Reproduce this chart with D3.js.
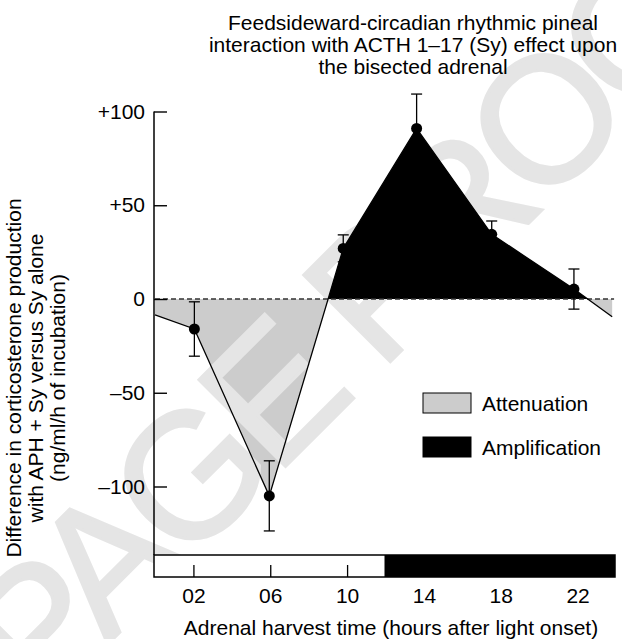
<!DOCTYPE html>
<html>
<head>
<meta charset="utf-8">
<script src="https://cdn.jsdelivr.net/npm/d3@7"></script>
<style>
  body { margin: 0; background: #fff; }
  text { font-family: "Liberation Sans", Arial, Helvetica, sans-serif; }
</style>
</head>
<body>
<script>
// values (hours after light onset, ng/ml/h of incubation)
const harvestHours = [2.05, 5.95, 9.8, 13.62, 17.53, 21.81];
const meanDiff = [-16, -105, 27, 91, 34.5, 5.3];
const semDiff = [14.5, 18.7, 7.2, 18.3, 7.1, 10.7];
// the curve is carried on to both edges of the day
const edgeHours = [0, 23.8];
const edgeDiff = [-8.5, -9.5];

const yTicks = [100, 50, 0, -50, -100];
const xTicks = [2, 6, 10, 14, 18, 22];
const lightPhases = [{from: 0, to: 12, fill: '#fff'}, {from: 12, to: 24, fill: '#000'}];

const titleLines = ['Feedsideward-circadian rhythmic pineal',
  'interaction with ACTH 1\u201317 (Sy) effect upon', 'the bisected adrenal'];
const yLabelLines = ['Difference in corticosterone production',
  'with APH + Sy versus Sy alone', '(ng/ml/h of incubation)'];
const xLabel = 'Adrenal harvest time (hours after light onset)';
const legendItems = [{label: 'Attenuation', fill: '#cccccc'}, {label: 'Amplification', fill: '#000'}];

const W = 622, H = 639;
const fontSize = 21;
const barTop = 555, barBottom = 577;

const svg = d3.select('body').append('svg')
  .attr('width', W).attr('height', H);

const x = d3.scaleLinear().domain([0, 24]).range([155, 616]);
const y = d3.scaleLinear().domain([-100, 100]).range([486.5, 111.5]);

const pts = [{h: edgeHours[0], v: edgeDiff[0]}]
  .concat(harvestHours.map((h, i) => ({h: h, v: meanDiff[i], s: semDiff[i]})))
  .concat([{h: edgeHours[1], v: edgeDiff[1]}]);

// clip areas above / below zero
const defs = svg.append('defs');
defs.append('clipPath').attr('id', 'above')
  .append('rect').attr('x', 0).attr('y', 0).attr('width', W).attr('height', y(0));
defs.append('clipPath').attr('id', 'below')
  .append('rect').attr('x', 0).attr('y', y(0)).attr('width', W).attr('height', barTop - y(0));

const area = d3.area()
  .x((d) => x(d.h))
  .y0(y(0))
  .y1((d) => y(d.v));

svg.append('path').datum(pts)
  .attr('d', area).attr('fill', legendItems[0].fill)
  .attr('clip-path', 'url(#below)');

// watermark (sits over the grey fill, under the black one)
svg.append('text')
  .attr('transform', 'translate(40,712) rotate(-45)')
  .attr('font-size', 178)
  .attr('letter-spacing', -10)
  .attr('fill', '#e5e5e5')
  .attr('stroke', '#e5e5e5').attr('stroke-width', 3)
  .text('PAGE PROOF');

svg.append('path').datum(pts)
  .attr('d', area).attr('fill', legendItems[1].fill)
  .attr('clip-path', 'url(#above)');

// zero line
svg.append('line')
  .attr('x1', x(0)).attr('x2', x(23.9))
  .attr('y1', y(0)).attr('y2', y(0))
  .attr('stroke', '#333').attr('stroke-width', 1.4)
  .attr('stroke-dasharray', '5,3');

svg.append('path').datum(pts)
  .attr('d', d3.line().x((d) => x(d.h)).y((d) => y(d.v)))
  .attr('fill', 'none').attr('stroke', '#000').attr('stroke-width', 1.3);

// error bars
const harvest = pts.filter((d) => d.s !== undefined);
const eb = svg.append('g').attr('stroke', '#000').attr('stroke-width', 1.3);
eb.selectAll('.bar').data(harvest).join('line')
  .attr('x1', (d) => x(d.h)).attr('x2', (d) => x(d.h))
  .attr('y1', (d) => y(d.v - d.s)).attr('y2', (d) => y(d.v + d.s));
eb.selectAll('.capTop').data(harvest).join('line').attr('class', 'capTop')
  .attr('x1', (d) => x(d.h) - 5.5).attr('x2', (d) => x(d.h) + 5.5)
  .attr('y1', (d) => y(d.v + d.s)).attr('y2', (d) => y(d.v + d.s));
eb.selectAll('.capBot').data(harvest).join('line').attr('class', 'capBot')
  .attr('x1', (d) => x(d.h) - 5.5).attr('x2', (d) => x(d.h) + 5.5)
  .attr('y1', (d) => y(d.v - d.s)).attr('y2', (d) => y(d.v - d.s));

svg.append('g').selectAll('circle').data(harvest).join('circle')
  .attr('cx', (d) => x(d.h)).attr('cy', (d) => y(d.v))
  .attr('r', 5.5).attr('fill', '#000');

// y axis
const fmt = (v) => v > 0 ? '+' + v : v < 0 ? '\u2013' + Math.abs(v) : '0';
const yAxis = svg.append('g')
  .attr('transform', `translate(${x(0) - 1},0)`)
  .call(d3.axisLeft(y).tickValues(yTicks).tickSize(-13).tickPadding(9).tickFormat(fmt));
yAxis.select('.domain').remove();
yAxis.selectAll('line').attr('stroke-width', 1.4);
yAxis.selectAll('text').attr('font-size', fontSize).attr('font-family', null).attr('fill', '#000');
yAxis.append('line')
  .attr('x1', 0).attr('x2', 0).attr('y1', y(100)).attr('y2', barTop)
  .attr('stroke', '#000').attr('stroke-width', 1.5);

// light / dark bar
svg.append('g').selectAll('rect').data(lightPhases).join('rect')
  .attr('x', (d) => x(d.from) - 1).attr('width', (d) => x(d.to) - x(d.from))
  .attr('y', barTop).attr('height', barBottom - barTop)
  .attr('fill', (d) => d.fill);

const xAxis = svg.append('g')
  .attr('transform', `translate(0,${barBottom})`)
  .call(d3.axisBottom(x).tickValues(xTicks).tickSize(-12).tickPadding(11).tickFormat(d3.format('02d')));
xAxis.select('.domain').remove();
xAxis.selectAll('line').attr('stroke-width', 1.3);
xAxis.selectAll('text').attr('font-size', fontSize).attr('font-family', null).attr('fill', '#000');

svg.append('rect')
  .attr('x', x(0) - 1).attr('y', barTop)
  .attr('width', x(24) - x(0)).attr('height', barBottom - barTop)
  .attr('fill', 'none').attr('stroke', '#000').attr('stroke-width', 1.5);

// legend
const lg = svg.append('g').selectAll('g').data(legendItems).join('g')
  .attr('transform', (d, i) => `translate(423,${393 + i * 44})`);
lg.append('rect').attr('width', 48).attr('height', 20)
  .attr('fill', (d) => d.fill).attr('stroke', '#000').attr('stroke-width', 1);
lg.append('text').attr('x', 59).attr('y', 18)
  .attr('font-size', fontSize).text((d) => d.label);

// titles and labels
svg.append('g').selectAll('text').data(titleLines).join('text')
  .attr('x', 413).attr('y', (d, i) => 30 + i * 22)
  .attr('text-anchor', 'middle').attr('font-size', fontSize)
  .text((d) => d);

svg.append('g').selectAll('text').data(yLabelLines).join('text')
  .attr('transform', (d, i) => `translate(${21 + i * 22},378) rotate(-90)`)
  .attr('text-anchor', 'middle').attr('font-size', fontSize)
  .text((d) => d);

svg.append('text')
  .attr('x', 391).attr('y', 635)
  .attr('text-anchor', 'middle').attr('font-size', fontSize)
  .text(xLabel);
</script>
</body>
</html>
